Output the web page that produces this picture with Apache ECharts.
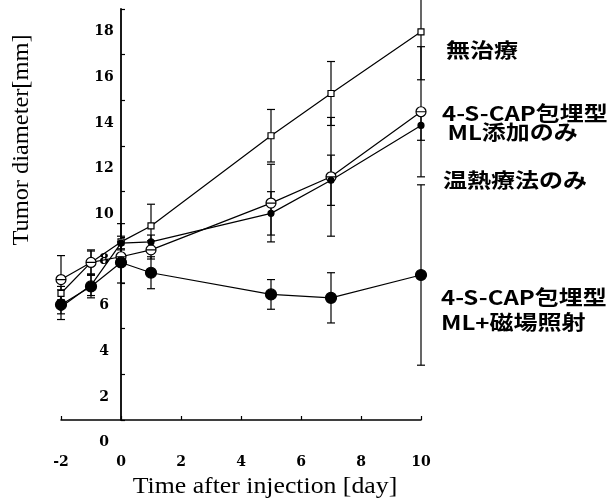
<!DOCTYPE html>
<html><head><meta charset="utf-8">
<script src="https://cdn.jsdelivr.net/npm/echarts@6/dist/echarts.min.js"></script>
<style>html,body{margin:0;padding:0;background:#fff}#c{width:610px;height:501px}</style>
</head><body><div id="c"></div>
<script>
// ---- data ----
const days = [-2, -1, 0, 1, 5, 7, 10];
const seriesNames = ['無治療', '4-S-CAP包埋型ML添加のみ', '温熱療法のみ', '4-S-CAP包埋型ML+磁場照射'];
const noTreat      = [6.55, 7.9, 8.8, 9.5, 13.45, 15.3, 18.0];
const noTreatErr   = [0.3, 0.5, 0.8, 0.95, 1.15, 1.4, 2.1];
const mlOnly       = [7.15, 7.9, 8.15, 8.45, 10.5, 11.65, 14.5];
const mlOnlyErr    = [1.05, 0.55, 0.35, 0.4, 1.7, 2.6, 2.85];
const hyperOnly    = [5.95, 6.9, 8.75, 8.8, 10.05, 11.5, 13.9];
const hyperOnlyErr = [0.3, 0.45, 0.3, 0.3, 0.95, 1.1, 0.65];
const combined     = [6.05, 6.85, 7.9, 7.45, 6.5, 6.35, 7.35];
const combinedErr  = [0.65, 0.5, 0.9, 0.7, 0.65, 1.1, 3.95];
const xTickLabels = [-2, 0, 2, 4, 6, 8, 10];
const yTickLabels = [2, 4, 6, 8, 10, 12, 14, 16, 18];
const yTicks = [1, 3, 5, 7, 9, 11, 13, 15, 17, 19];
const yZeroLabel = 0;
const labelLines = [['無治療'], ['4-S-CAP包埋型', ' ML添加のみ'], ['温熱療法のみ'], ['4-S-CAP包埋型', 'ML+磁場照射']];

// ---- chart ----
const chart = echarts.init(document.getElementById('c'), null, {renderer: 'canvas'});
const INK = '#000';
const tickFont = {fontFamily: 'DejaVu Serif', fontWeight: 'bold', fontSize: 14, color: INK};

function lineSeries(name, vals, symbol, size, fill) {
  return {
    type: 'line', name, data: days.map((d, i) => [d, vals[i]]),
    symbol, symbolSize: size, showAllSymbol: true, z: 3,
    lineStyle: {color: INK, width: 1.2},
    itemStyle: {color: fill, borderColor: INK, borderWidth: 1.2},
    emphasis: {disabled: true}, animation: false
  };
}
function errSeries(name, vals, errs) {
  return {
    type: 'custom', name: name + ' err', z: 2, animation: false,
    data: days.map((d, i) => [d, vals[i] - errs[i], vals[i] + errs[i]]),
    encode: {x: 0, y: [1, 2]},
    renderItem(params, api) {
      const x = api.value(0);
      const lo = api.coord([x, api.value(1)]);
      const hi = api.coord([x, api.value(2)]);
      const w = 4;
      const st = {stroke: INK, lineWidth: 1.2, fill: null};
      return {type: 'group', children: [
        {type: 'line', shape: {x1: lo[0], y1: lo[1], x2: hi[0], y2: hi[1]}, style: st},
        {type: 'line', shape: {x1: lo[0] - w, y1: lo[1], x2: lo[0] + w, y2: lo[1]}, style: st},
        {type: 'line', shape: {x1: hi[0] - w, y1: hi[1], x2: hi[0] + w, y2: hi[1]}, style: st}
      ]};
    }
  };
}
const thetaCircle = 'path://M0,-10A10,10 0 1,1 0,10A10,10 0 1,1 0,-10ZM-10,0L10,0';

const legendPos = [[446, [50]], [442, [113, 132]], [443, [180]], [441, [297, 322]]];
const graphics = [];
labelLines.forEach((lines, k) => {
  lines.forEach((t, j) => {
    graphics.push({type: 'text', x: legendPos[k][0], y: legendPos[k][1][j], scaleX: 1.2,
      style: {text: t, fill: INK, font: 'bold 20px "Noto Sans CJK JP"', align: 'left', verticalAlign: 'middle'}});
  });
});
graphics.push({type: 'text', x: 22, y: 140, rotation: Math.PI / 2, scaleX: 1.06,
  style: {text: 'Tumor diameter[mm]', fill: INK, font: '23px "Liberation Serif"', align: 'center', verticalAlign: 'middle'}});
graphics.push({type: 'text', x: 265, y: 487, scaleX: 1.12,
  style: {text: 'Time after injection [day]', fill: INK, font: '23px "Liberation Serif"', align: 'center', verticalAlign: 'middle'}});

const gridLeft = 61;
const option = {
  backgroundColor: '#fff', animation: false,
  grid: {left: gridLeft, right: 189, top: 9, bottom: 81, containLabel: false},
  xAxis: {
    type: 'value', min: -2, max: 10, interval: 2,
    axisLine: {onZero: true, lineStyle: {color: INK, width: 1.5}},
    axisTick: {inside: true, length: 4, lineStyle: {color: INK, width: 1.2}},
    axisLabel: Object.assign({margin: 35, customValues: xTickLabels}, tickFont),
    splitLine: {show: false}
  },
  yAxis: {
    type: 'value', min: 1, max: 19, interval: 2, position: 'left', offset: 0,
    axisLine: {onZero: false, lineStyle: {color: INK, width: 1.8}},
    axisTick: {inside: true, length: 4, customValues: yTicks, lineStyle: {color: INK, width: 1.2}},
    axisLabel: Object.assign({margin: 17, align: 'center', customValues: yTickLabels}, tickFont),
    splitLine: {show: false}
  },
  series: [
    errSeries(seriesNames[0], noTreat, noTreatErr),
    errSeries(seriesNames[1], mlOnly, mlOnlyErr),
    errSeries(seriesNames[2], hyperOnly, hyperOnlyErr),
    errSeries(seriesNames[3], combined, combinedErr),
    lineSeries(seriesNames[0], noTreat, 'rect', 6, '#fff'),
    lineSeries(seriesNames[1], mlOnly, thetaCircle, 10, '#fff'),
    lineSeries(seriesNames[2], hyperOnly, 'circle', 6, INK),
    lineSeries(seriesNames[3], combined, 'circle', 11, INK)
  ],
  graphic: graphics
};
chart.setOption(option);
// place the y axis (line, ticks, labels) at day 0 through the x scale
const p0 = chart.convertToPixel({xAxisIndex: 0, yAxisIndex: 0}, [0, yZeroLabel]);
const xMinPx = chart.convertToPixel({xAxisIndex: 0}, -2);
graphics.push({type: 'text', x: p0[0] - 17, y: p0[1],
  style: {text: String(yZeroLabel), fill: INK, font: 'bold 14px "DejaVu Serif"', align: 'center', verticalAlign: 'middle'}});
chart.setOption({yAxis: {offset: -(p0[0] - xMinPx)}, graphic: graphics});
</script></body></html>
